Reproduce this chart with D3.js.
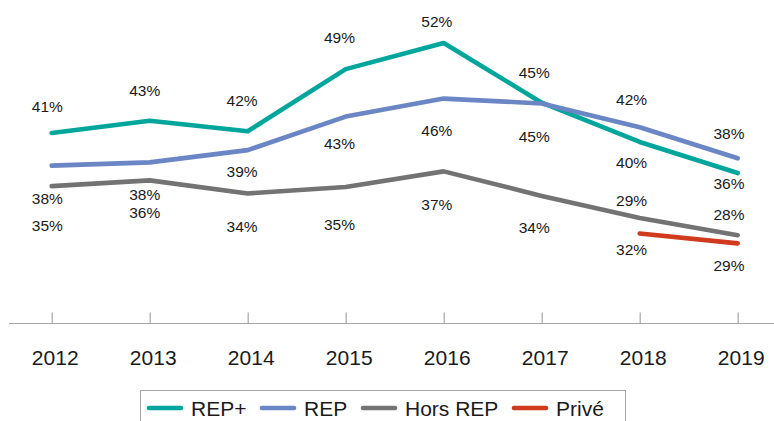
<!DOCTYPE html>
<html>
<head>
<meta charset="utf-8">
<script src="https://cdn.jsdelivr.net/npm/d3@7"></script>
<style>
  body { margin: 0; background: #fff; }
  text { font-family: "Liberation Sans", Arial, sans-serif; fill: #1a1a1a; }
</style>
</head>
<body>
<svg id="chart"></svg>
<script>
// data
var years = ["2012", "2013", "2014", "2015", "2016", "2017", "2018", "2019"];
var repPlus = [40.9, 42.4, 41.1, 48.7, 51.9, 44.6, 39.8, 36.0];
var rep = [36.9, 37.3, 38.8, 42.9, 45.1, 44.5, 41.6, 37.8];
var horsRep = [34.4, 35.1, 33.5, 34.3, 36.2, 33.2, 30.5, 28.4];
var prive = [null, null, null, null, null, null, 28.6, 27.4];

var repPlusLabels = ["41%", "43%", "42%", "49%", "52%", "45%", "40%", "36%"];
var repLabels = ["38%", "38%", "39%", "43%", "46%", "45%", "42%", "38%"];
var horsRepLabels = ["35%", "36%", "34%", "35%", "37%", "34%", "29%", "28%"];
var priveLabels = [null, null, null, null, null, null, "32%", "29%"];

// label offsets from the point (px), layout only
var repPlusDy = [-27, -30, -31, -32, -22, -30, 20, 10];
var repDy = [33, 32, 21, 27, 32, 33, -28, -25];
var horsRepDy = [39, 32, 33, 37, 33, 31, -18, -21];
var priveDy = [null, null, null, null, null, null, 16, 22];

var series = [
    {name: "REP+", values: repPlus, labels: repPlusLabels, dy: repPlusDy, color: "#00a69b"},
    {name: "REP", values: rep, labels: repLabels, dy: repDy, color: "#6a86c4"},
    {name: "Hors REP", values: horsRep, labels: horsRepLabels, dy: horsRepDy, color: "#737373"},
    {name: "Privé", values: prive, labels: priveLabels, dy: priveDy, color: "#d03a1d"}
];

var svg = d3.select("#chart")
    .attr("width", 774)
    .attr("height", 421);

var xScale = d3.scalePoint().domain(years).range([51.7, 737.7]);
var labelX = d3.scalePoint().domain(years).range([47.3, 729]);
var yScale = d3.scaleLinear().domain([20, 55]).range([303.9, 17.6]);

// x axis
var axisY = 323.5;
svg.append("line")
    .attr("x1", 9).attr("x2", 774)
    .attr("y1", axisY).attr("y2", axisY)
    .style("stroke", "#a6a6a6")
    .style("stroke-width", 1.2);

var xAxis = svg.append("g")
    .attr("transform", "translate(0," + axisY + ")")
    .call(d3.axisBottom(xScale).tickSizeInner(-11).tickSizeOuter(0).tickPadding(27));
xAxis.select(".domain").remove();
xAxis.selectAll(".tick line").style("stroke", "#a6a6a6").style("stroke-width", 1.2);
xAxis.selectAll(".tick text")
    .attr("x", 3)
    .attr("dy", "0.71em")
    .style("font-family", "'Liberation Sans', Arial, sans-serif")
    .style("font-size", "21px")
    .style("fill", "#1a1a1a");

var line = d3.line()
    .defined(function(d) { return d != null; })
    .x(function(d, i) { return xScale(years[i]); })
    .y(function(d) { return yScale(d); });

svg.append("g").selectAll("path")
    .data(series)
    .enter()
    .append("path")
    .attr("d", function(d) { return line(d.values); })
    .style("fill", "none")
    .style("stroke", function(d) { return d.color; })
    .style("stroke-width", 4.6)
    .style("stroke-linecap", "round")
    .style("stroke-linejoin", "round");

// data labels
series.forEach(function(s) {
    svg.append("g").selectAll("text")
        .data(s.values.map(function(v, i) { return {v: v, i: i}; }).filter(function(d) { return d.v != null; }))
        .enter()
        .append("text")
        .attr("x", function(d) { return labelX(years[d.i]); })
        .attr("y", function(d) { return yScale(d.v) + s.dy[d.i]; })
        .attr("dy", "0.36em")
        .attr("text-anchor", "middle")
        .style("font-size", "15.5px")
        .text(function(d) { return s.labels[d.i]; });
});

// legend
svg.append("rect")
    .attr("x", 140.5).attr("y", 390.5)
    .attr("width", 485).attr("height", 45)
    .style("fill", "#fff")
    .style("stroke", "#a6a6a6");

var legendX = [149, 262, 363, 514];
var legend = svg.append("g").selectAll("g")
    .data(series)
    .enter()
    .append("g")
    .attr("transform", function(d, i) { return "translate(" + legendX[i] + ",408)"; });

legend.append("line")
    .attr("x1", 0).attr("x2", 32)
    .style("stroke", function(d) { return d.color; })
    .style("stroke-width", 4.6)
    .style("stroke-linecap", "round");

legend.append("text")
    .attr("x", 42)
    .attr("dy", "0.36em")
    .style("font-size", "21px")
    .text(function(d) { return d.name; });
</script>
</body>
</html>
